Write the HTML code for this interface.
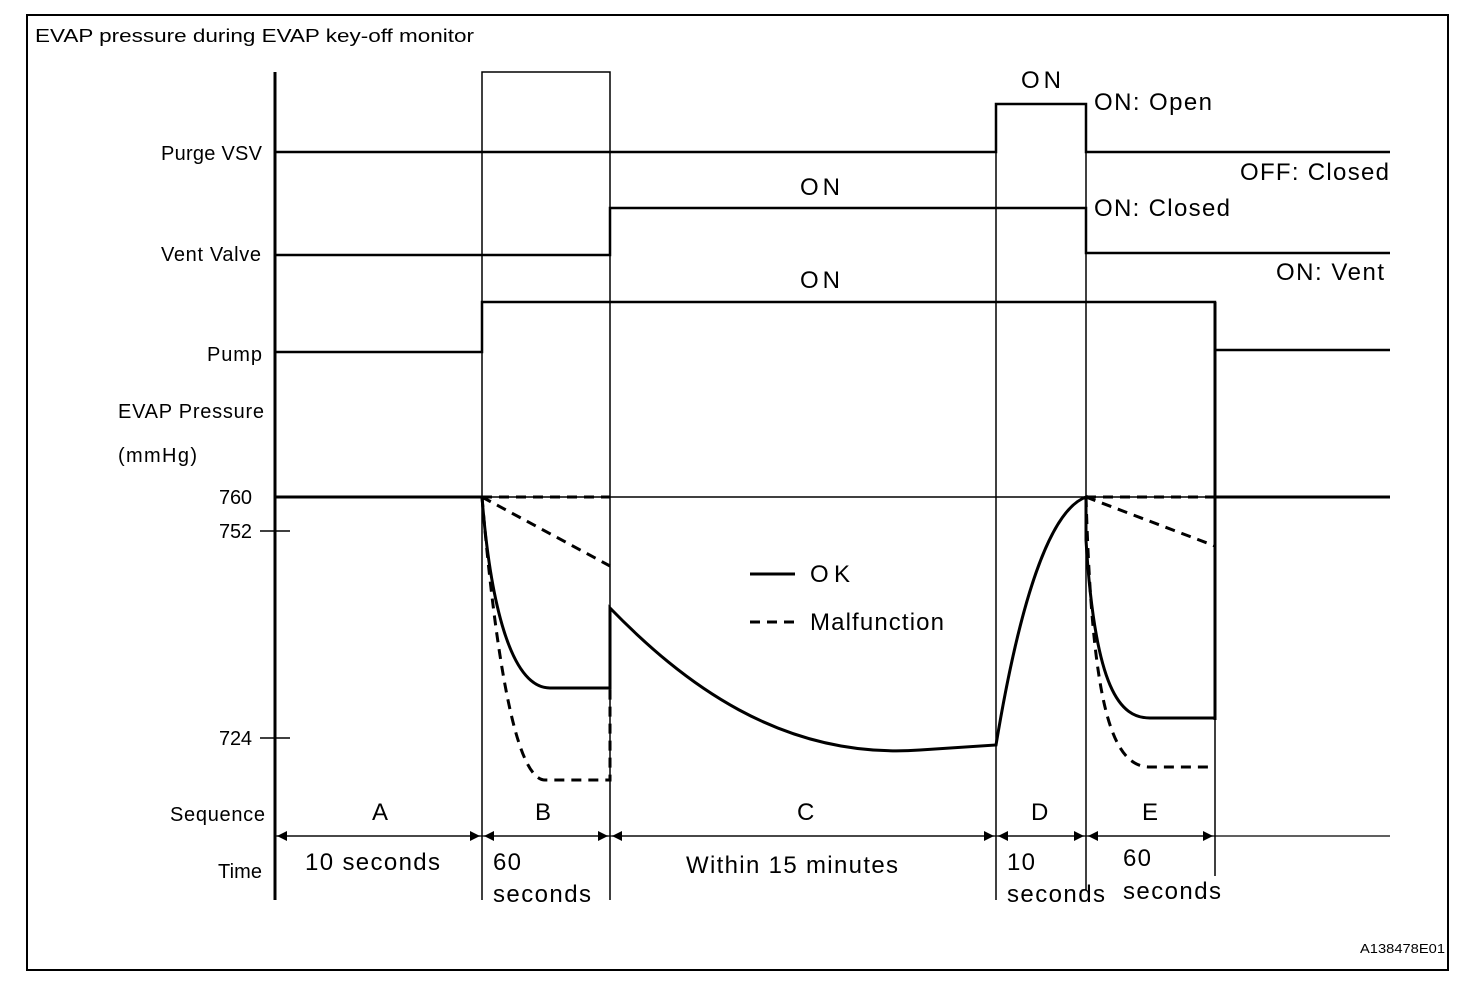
<!DOCTYPE html>
<html><head><style>body{margin:0;background:#fff}svg{display:block}text{font-family:"Liberation Sans",sans-serif;fill:#000}</style></head><body>
<svg width="1472" height="984" viewBox="0 0 1472 984" xmlns="http://www.w3.org/2000/svg">
<defs><marker id="a" viewBox="0 0 10 10" refX="10" refY="5" markerWidth="14" markerHeight="10" markerUnits="userSpaceOnUse" orient="auto-start-reverse"><path d="M0,0L10,5L0,10z"/></marker></defs>
<rect x="27" y="15" width="1421" height="955" fill="none" stroke="#000" stroke-width="2"/>
<text x="35" y="42" font-size="18" textLength="439" lengthAdjust="spacingAndGlyphs">EVAP pressure during EVAP key-off monitor</text>
<text x="1360" y="953" font-size="13" textLength="85" lengthAdjust="spacingAndGlyphs">A138478E01</text>
<g font-size="20" lengthAdjust="spacingAndGlyphs">
<text x="161" y="160" textLength="101">Purge VSV</text><text x="161" y="261" textLength="100">Vent Valve</text><text x="207" y="361" textLength="55">Pump</text>
<text x="118" y="418" textLength="146">EVAP Pressure</text><text x="118" y="462" textLength="79">(mmHg)</text>
<text x="219" y="504" textLength="33">760</text><text x="219" y="538" textLength="33">752</text><text x="219" y="745" textLength="33">724</text>
<text x="170" y="821" textLength="95">Sequence</text><text x="218" y="878" textLength="44">Time</text></g>
<g fill="none" stroke="#000">
<line x1="275" y1="72" x2="275" y2="900" stroke-width="3"/>
<path d="M482,900V72H610V900" stroke-width="1.5"/>
<line x1="996" y1="104" x2="996" y2="900" stroke-width="1.5"/>
<line x1="1086" y1="104" x2="1086" y2="890" stroke-width="1.5"/>
<line x1="1215" y1="302" x2="1215" y2="720" stroke-width="3"/>
<line x1="1215" y1="720" x2="1215" y2="876" stroke-width="1.5"/>
<path d="M275,152H996V104H1086V152H1390" stroke-width="2.5"/>
<path d="M275,255H610V208H1086V253H1390" stroke-width="2.5"/>
<path d="M275,352H482V302H1215V350H1390" stroke-width="2.5"/>
<line x1="275" y1="497" x2="1390" y2="497" stroke-width="1.5"/>
<path d="M275,497H482M1215,497H1390" stroke-width="3"/>
<path d="M260,531H290M260,738H290" stroke-width="1.5"/>
<line x1="275" y1="836" x2="1390" y2="836" stroke-width="1.2"/>
<g stroke-width="3">
<path d="M482,497C490,600 510,688 550,688H610V608C680,680 780,760 920,750L996,745C1020,600 1050,510 1086,497V540C1095,690 1120,718 1150,718H1215"/>
<path d="M750,574H795"/>
</g>
<g stroke-width="3" stroke-dasharray="10,7">
<path d="M482,497H610M482,497L610,566M482,497C495,650 515,780 545,780H610V688"/>
<path d="M1086,497H1215M1086,497L1215,546M1086,497C1092,700 1110,767 1150,767H1215"/>
<path d="M750,622H795"/>
</g>
<g stroke-width="1.2" marker-start="url(#a)" marker-end="url(#a)">
<line x1="277" y1="836" x2="480" y2="836"/><line x1="484" y1="836" x2="608" y2="836"/>
<line x1="612" y1="836" x2="994" y2="836"/><line x1="998" y1="836" x2="1084" y2="836"/>
<line x1="1088" y1="836" x2="1213" y2="836"/></g>
</g>
<g font-size="24" lengthAdjust="spacingAndGlyphs">
<text x="1021" y="88" textLength="40">ON</text><text x="1094" y="110" textLength="118">ON: Open</text>
<text x="1240" y="180" textLength="149">OFF: Closed</text>
<text x="800" y="195" textLength="40">ON</text><text x="1094" y="216" textLength="136">ON: Closed</text>
<text x="1276" y="280" textLength="108">ON: Vent</text>
<text x="800" y="288" textLength="40">ON</text>
<text x="810" y="582" textLength="40">OK</text><text x="810" y="630" textLength="134">Malfunction</text>
<text x="372" y="820">A</text><text x="535" y="820">B</text>
<text x="797" y="820">C</text><text x="1031" y="820">D</text>
<text x="1142" y="820">E</text>
<text x="305" y="870" textLength="135">10 seconds</text>
<text x="493" y="870" textLength="28">60</text><text x="493" y="902" textLength="98">seconds</text>
<text x="686" y="873" textLength="212">Within 15 minutes</text>
<text x="1007" y="870" textLength="28">10</text><text x="1007" y="902" textLength="98">seconds</text>
<text x="1123" y="866" textLength="28">60</text><text x="1123" y="899" textLength="98">seconds</text>
</g>
</svg>
</body></html>
